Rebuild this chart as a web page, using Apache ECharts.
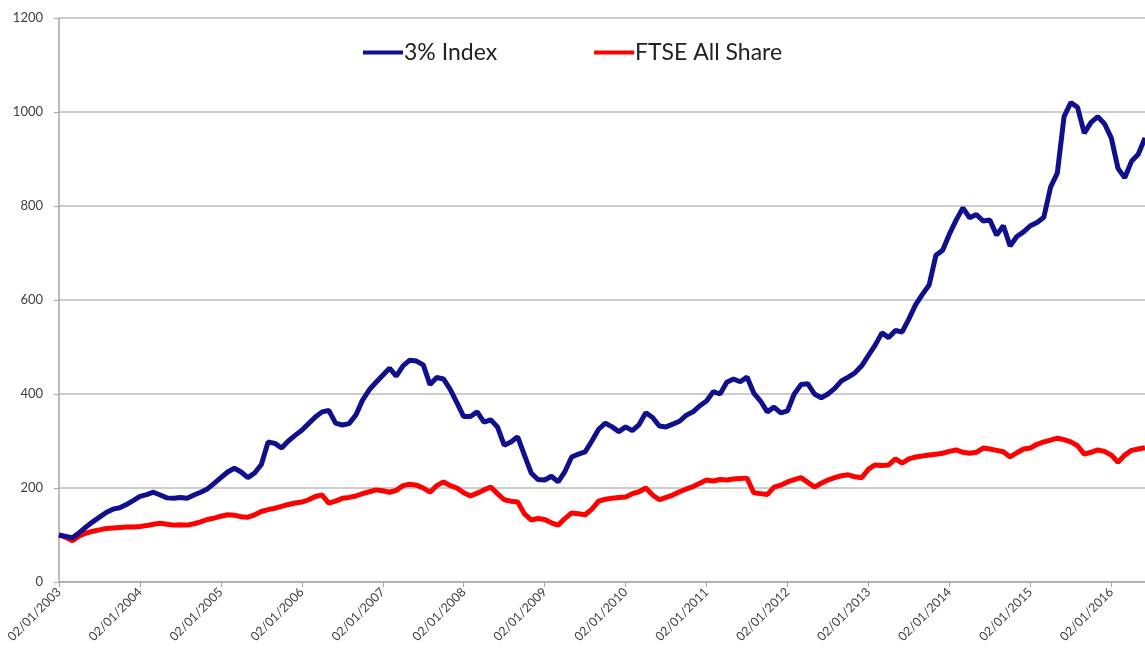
<!DOCTYPE html>
<html>
<head>
<meta charset="utf-8">
<script src="https://cdn.jsdelivr.net/npm/echarts@6/dist/echarts.min.js"></script>
<style>
  html, body { margin: 0; padding: 0; background: #fff; }
  #chart { width: 1145px; height: 651px; }
</style>
</head>
<body>
<div id="chart"></div>
<script>
// monthly readings, Jan 2003 .. Jun 2016
const startYear = 2003;
const monthCount = 162;

const indexValues = [
  100, 97, 94, 105, 117, 128, 138, 148, 155, 158, 165, 173,
  182, 186, 191, 185, 179, 178, 180, 178, 185, 191, 198, 210,
  222, 234, 242, 234, 222, 232, 250, 298, 295, 285, 300, 312,
  323, 337, 351, 362, 365, 338, 334, 337, 355, 387, 409, 425,
  440, 455, 438, 460, 472, 470, 462, 420, 435, 432, 410, 381,
  352, 352, 362, 340, 345, 330, 291, 298, 309, 270, 232, 218,
  217, 225, 213, 235, 266, 272, 277, 300, 325, 338, 330, 320,
  330, 322, 335, 360, 350, 332, 330, 336, 342, 355, 362, 375,
  385, 405, 400, 425, 432, 426, 436, 402, 385, 362, 372, 360,
  364, 400, 420, 422, 400, 392, 400, 412, 428, 436, 445, 460,
  482, 504, 530, 520, 535, 532, 560, 590, 612, 632, 695, 706,
  740, 770, 796, 775, 782, 768, 770, 738, 758, 715, 735, 745,
  758, 765, 776, 840, 870, 990, 1020, 1010, 955, 978, 990, 975,
  945, 880, 860, 895, 910, 945
];

const ftseValues = [
  100, 95, 88, 98, 104, 108, 111, 114, 115, 116, 117, 117,
  118, 120, 123, 125, 123, 121, 122, 121, 124, 128, 133, 136,
  140, 143, 142, 139, 138, 143, 150, 154, 157, 161, 165, 168,
  170, 175, 182, 185, 168, 172, 178, 180, 183, 188, 192, 196,
  194, 191, 195, 205, 208, 206, 200, 191, 205, 213, 205, 200,
  190, 183, 189, 196, 202, 188, 175, 172, 170, 145, 132, 135,
  133, 126, 121, 135, 147, 145, 143, 155, 172, 176, 178, 180,
  181, 188, 192, 200, 185, 175, 180, 185, 192, 198, 203, 210,
  217, 215, 218, 217, 219, 220, 221, 190, 188, 186, 202, 206,
  213, 218, 222, 212, 202, 210, 217, 222, 226, 228, 224, 222,
  240, 249, 248, 249, 262, 253, 262, 266, 268, 270, 272, 274,
  278, 281, 276, 274, 276, 285, 283, 280, 277, 266, 275, 283,
  285, 293, 298, 302, 306, 303, 298, 290, 272, 276, 281, 278,
  270, 255, 270, 280, 283, 286
];

const months = [];
for (let i = 0; i < monthCount; i++) {
  const y = startYear + Math.floor(i / 12);
  const m = (i % 12) + 1;
  months.push(y + '-' + (m < 10 ? '0' + m : m));
}

const yearTick = (idx) => idx % 12 === 0;

const chart = echarts.init(document.getElementById('chart'));
chart.setOption({
  animation: false,
  backgroundColor: '#fff',
  textStyle: { fontFamily: 'Lato, "Open Sans", sans-serif' },
  legend: {
    left: 358,
    top: 36,
    itemWidth: 40,
    itemHeight: 4,
    itemGap: 97,
    icon: 'rect',
    textStyle: { fontSize: 23, color: '#222', padding: [0, 0, 0, -4] },
    data: ['3% Index', 'FTSE All Share']
  },
  grid: { left: 59, right: 0, top: 18, bottom: 69 },
  xAxis: {
    type: 'category',
    data: months,
    boundaryGap: false,
    axisLine: { lineStyle: { color: '#a6a6a6', width: 1.5 } },
    axisTick: { interval: yearTick, length: 5, lineStyle: { color: '#a6a6a6' } },
    axisLabel: {
      interval: yearTick,
      rotate: 45,
      fontSize: 12.5,
      color: '#404040',
      margin: 8,
      formatter: (v) => '02/01/' + v.slice(0, 4)
    },
    splitLine: { show: false }
  },
  yAxis: {
    type: 'value',
    min: 0,
    max: 1200,
    interval: 200,
    axisLine: { show: true, lineStyle: { color: '#a6a6a6', width: 1.5 } },
    axisTick: { show: true, length: 5, lineStyle: { color: '#a6a6a6' } },
    axisLabel: { fontSize: 13, color: '#404040', margin: 16, formatter: (v) => String(v) },
    splitLine: { lineStyle: { color: '#bdbdbd', width: 1.5 } }
  },
  series: [
    {
      name: '3% Index',
      type: 'line',
      data: indexValues,
      showSymbol: false,
      color: '#10108c',
      lineStyle: { width: 5, color: '#10108c' },
      z: 3
    },
    {
      name: 'FTSE All Share',
      type: 'line',
      data: ftseValues,
      showSymbol: false,
      color: '#ff0000',
      lineStyle: { width: 5, color: '#ff0000' },
      z: 2
    }
  ]
});
</script>
</body>
</html>
